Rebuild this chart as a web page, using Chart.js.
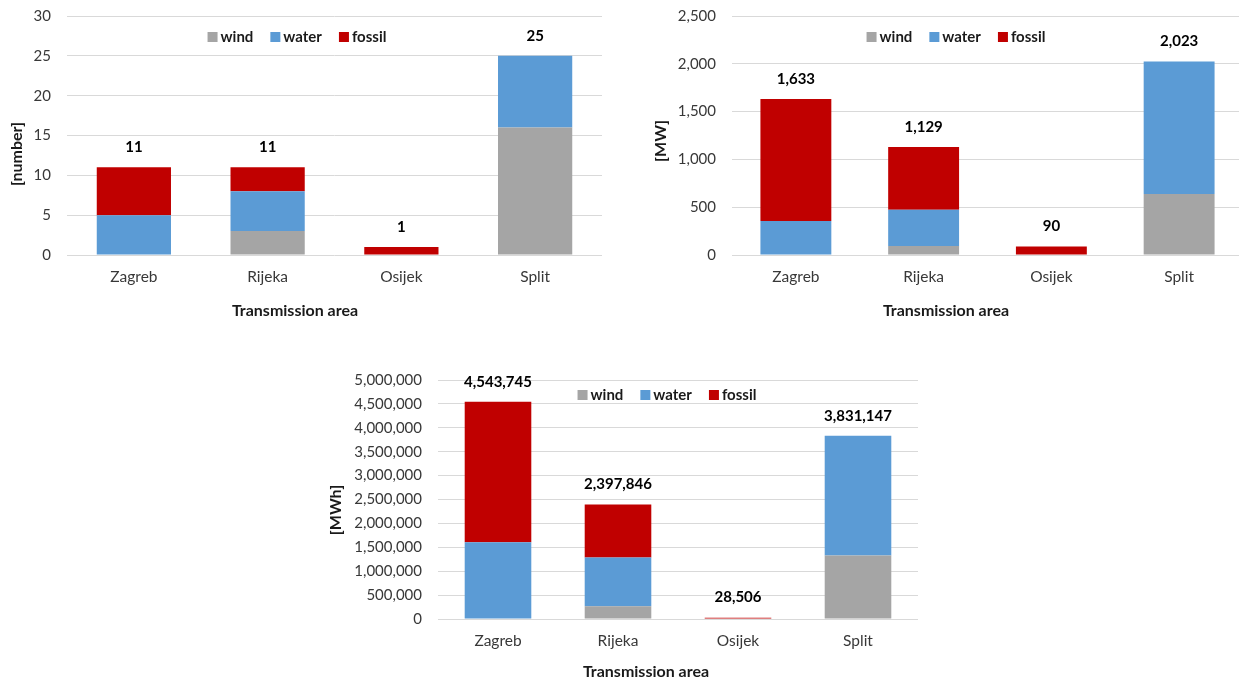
<!DOCTYPE html>
<html>
<head>
<meta charset="utf-8">
<script src="https://cdn.jsdelivr.net/npm/chart.js@4/dist/chart.umd.min.js"></script>
<style>
  html, body { margin: 0; padding: 0; background: #fff; overflow: hidden; width: 1239px; height: 683px; }
  canvas { position: absolute; }
</style>
</head>
<body>
<canvas id="count_chart" width="620" height="330" style="left:0;top:0"></canvas>
<canvas id="power_chart" width="623" height="330" style="left:620px;top:0"></canvas>
<canvas id="energy_chart" width="620" height="323" style="left:320px;top:360px"></canvas>
<script>
var areas = ['Zagreb', 'Rijeka', 'Osijek', 'Split'];
var sources = ['wind', 'water', 'fossil'];
var sourceColors = ['#a5a5a5', '#5b9bd5', '#c00000'];

// number of plants
var countWind = [0, 3, 0, 16];
var countWater = [5, 5, 0, 9];
var countFossil = [6, 3, 1, 0];
var countTicks = [0, 5, 10, 15, 20, 25, 30];

// installed power [MW]
var powerWind = [0, 94, 0, 637];
var powerWater = [355, 380, 0, 1386];
var powerFossil = [1278, 655, 90, 0];
var powerTicks = [0, 500, 1000, 1500, 2000, 2500];

// yearly production [MWh]
var energyWind = [0, 265000, 0, 1327000];
var energyWater = [1606000, 1020000, 0, 2504147];
var energyFossil = [2937745, 1112846, 28506, 0];
var energyTicks = [0, 500000, 1000000, 1500000, 2000000, 2500000, 3000000,
                   3500000, 4000000, 4500000, 5000000];

Chart.defaults.font.family = 'Lato';
Chart.defaults.font.size = 15.5;

function fmt(v) {
    return Number(v).toLocaleString('en-US');
}

// totals, legend and axis titles drawn the way Excel places them
var excelLook = {
    id: 'excelLook',
    afterDatasetsDraw: function (chart, args, opts) {
        var ctx = chart.ctx;
        var xs = chart.scales.x, ys = chart.scales.y;
        ctx.save();

        ctx.font = 'bold 15px Lato';
        ctx.fillStyle = '#000';
        ctx.textAlign = 'center';
        ctx.textBaseline = 'middle';
        chart.data.labels.forEach(function (label, i) {
            var total = 0;
            chart.data.datasets.forEach(function (ds) { total += ds.data[i]; });
            ctx.fillText(fmt(total), xs.getPixelForValue(i), ys.getPixelForValue(total) - 20);
        });

        // legend
        var items = chart.data.datasets;
        var widths = items.map(function (ds) { return 13 + ctx.measureText(ds.label).width; });
        var full = widths.reduce(function (a, b) { return a + b; }, 0) + 17 * (items.length - 1);
        var lx = opts.legend.x - full / 2;
        items.forEach(function (ds, i) {
            ctx.fillStyle = ds.backgroundColor;
            ctx.fillRect(lx, opts.legend.y - 5, 10, 10);
            ctx.fillStyle = '#1a1a1a';
            ctx.textAlign = 'left';
            ctx.fillText(ds.label, lx + 13, opts.legend.y);
            lx += widths[i] + 17;
        });

        // axis titles
        ctx.font = 'bold 16px Lato';
        ctx.textAlign = 'center';
        ctx.fillText(opts.xTitle.text, opts.xTitle.x, opts.xTitle.y);
        ctx.translate(opts.yTitle.x, opts.yTitle.y);
        ctx.rotate(-Math.PI / 2);
        ctx.fillText(opts.yTitle.text, 0, 0);
        ctx.restore();
    }
};

function makeChart(id, values, ticks, unit, geo) {
    var ctx = document.getElementById(id).getContext('2d');
    return new Chart(ctx, {
        type: 'bar',
        data: {
            labels: areas,
            datasets: sources.map(function (name, i) {
                return {
                    label: name,
                    data: values[i],
                    backgroundColor: sourceColors[i],
                    borderWidth: 0,
                    barPercentage: 0.555,
                    categoryPercentage: 1
                };
            })
        },
        options: {
            responsive: false,
            animation: false,
            events: [],
            layout: { padding: geo.padding },
            plugins: {
                legend: { display: false },
                tooltip: { enabled: false },
                excelLook: {
                    legend: geo.legend,
                    xTitle: { text: 'Transmission area', x: geo.xTitle[0], y: geo.xTitle[1] },
                    yTitle: { text: unit, x: geo.yTitle[0], y: geo.yTitle[1] }
                }
            },
            scales: {
                x: {
                    stacked: true,
                    grid: { display: false, drawTicks: false },
                    border: { display: false },
                    ticks: { color: '#383838', padding: 13 },
                    afterFit: function (s) { s.height = geo.xHeight; }
                },
                y: {
                    stacked: true,
                    min: ticks[0],
                    max: ticks[ticks.length - 1],
                    // invisible tick marks keep the labels off the plot
                    grid: { color: '#d9d9d9', tickLength: 16, tickColor: 'rgba(0,0,0,0)' },
                    border: { display: false },
                    ticks: { color: '#383838', padding: 0, font: { size: 15 }, callback: fmt },
                    afterBuildTicks: function (s) {
                        s.ticks = ticks.map(function (v) { return { value: v }; });
                    },
                    afterFit: function (s) { s.width = geo.yWidth; }
                }
            }
        },
        plugins: [excelLook]
    });
}

makeChart('count_chart', [countWind, countWater, countFossil], countTicks, '[number]', {
    padding: { top: 16, right: 18, left: 0, bottom: 0 },
    yWidth: 67, xHeight: 75,
    legend: { x: 297, y: 37 }, xTitle: [295, 311], yTitle: [17, 154]
});

makeChart('power_chart', [powerWind, powerWater, powerFossil], powerTicks, '[MW]', {
    padding: { top: 16, right: 0, left: 0, bottom: 0 },
    yWidth: 112, xHeight: 75,
    legend: { x: 336, y: 37 }, xTitle: [326, 311], yTitle: [41, 141]
});

makeChart('energy_chart', [energyWind, energyWater, energyFossil], energyTicks, '[MWh]', {
    padding: { top: 20, right: 22, left: 0, bottom: 0 },
    yWidth: 118, xHeight: 64,
    legend: { x: 347, y: 35 }, xTitle: [326, 312], yTitle: [16, 150]
});
</script>
</body>
</html>
